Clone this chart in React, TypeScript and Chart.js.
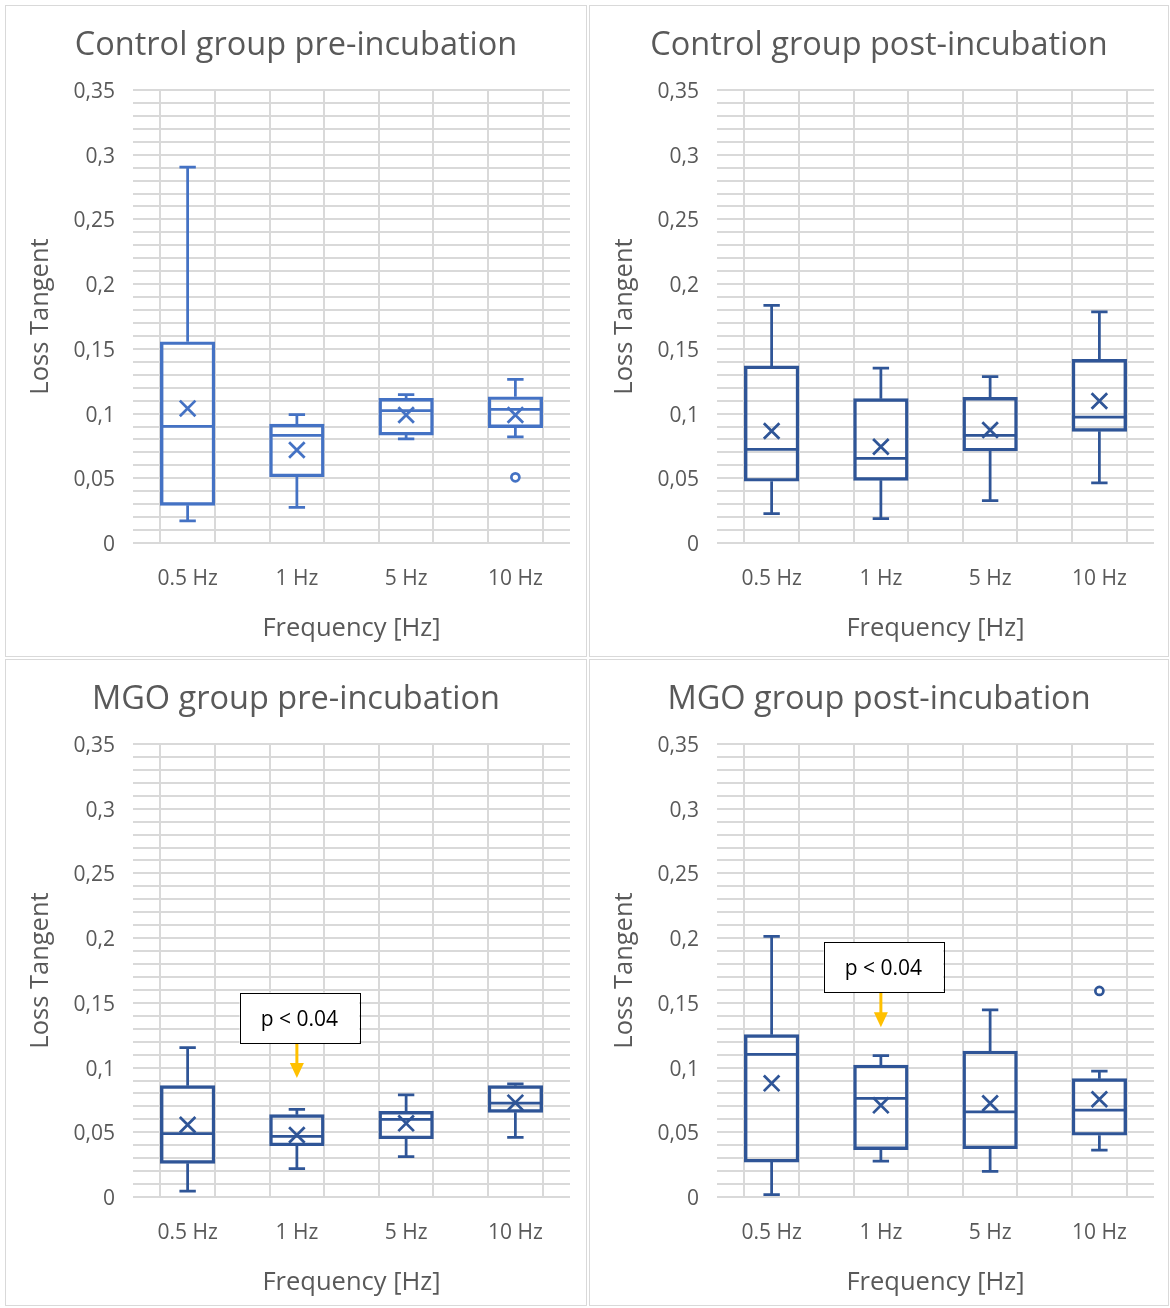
import React, { useEffect, useRef } from 'react';
import { Chart, registerables } from 'chart.js';

Chart.register(...registerables);

// ---------- data ----------
const categories = ['0.5 Hz', '1 Hz', '5 Hz', '10 Hz'];
const yAxisTitle = 'Loss Tangent';
const xAxisTitle = 'Frequency [Hz]';

// Control group pre-incubation
const ctrlPreMin = [0.017, 0.0276, 0.0804, 0.0819];
const ctrlPreQ1 = [0.0291, 0.0512, 0.0834, 0.0891];
const ctrlPreMedian = [0.0902, 0.0832, 0.1022, 0.1033];
const ctrlPreQ3 = [0.1555, 0.0919, 0.1118, 0.113];
const ctrlPreMax = [0.2905, 0.0991, 0.1146, 0.1265];
const ctrlPreMean = [0.104, 0.0719, 0.0989, 0.0989];
const ctrlPreOutliers: number[][] = [[], [], [], [0.0508]];

// Control group post-incubation
const ctrlPostMin = [0.0227, 0.0188, 0.0327, 0.0464];
const ctrlPostQ1 = [0.0477, 0.0484, 0.0711, 0.0863];
const ctrlPostMedian = [0.0724, 0.0654, 0.0832, 0.0973];
const ctrlPostQ3 = [0.1368, 0.1115, 0.1125, 0.1419];
const ctrlPostMax = [0.1836, 0.1352, 0.1285, 0.1785];
const ctrlPostMean = [0.0865, 0.0744, 0.0873, 0.1097];
const ctrlPostOutliers: number[][] = [[], [], [], []];

// MGO group pre-incubation
const mgoPreMin = [0.0046, 0.0219, 0.0311, 0.0461];
const mgoPreQ1 = [0.026, 0.0396, 0.045, 0.0654];
const mgoPreMedian = [0.0489, 0.0469, 0.06, 0.0726];
const mgoPreQ3 = [0.086, 0.0636, 0.0662, 0.086];
const mgoPreMax = [0.1154, 0.0677, 0.079, 0.0875];
const mgoPreMean = [0.0558, 0.0479, 0.0569, 0.0729];
const mgoPreOutliers: number[][] = [[], [], [], []];

// MGO group post-incubation
const mgoPostMin = [0.0018, 0.0278, 0.0198, 0.0363];
const mgoPostQ1 = [0.027, 0.0366, 0.0373, 0.0477];
const mgoPostMedian = [0.1102, 0.0762, 0.0657, 0.0672];
const mgoPostQ3 = [0.1254, 0.102, 0.1128, 0.0914];
const mgoPostMax = [0.2014, 0.1092, 0.1445, 0.0973];
const mgoPostMean = [0.0878, 0.0708, 0.0724, 0.0755];
const mgoPostOutliers: number[][] = [[], [], [], [0.1592]];

// significance annotations (category index, box top / bottom value, arrow tip value)
const sigText = 'p < 0.04';
const mgoPreSig = { cat: 1, top: 0.158, bottom: 0.119, tip: 0.092 };
const mgoPostSig = { cat: 1, top: 0.1968, bottom: 0.1584, tip: 0.1311 };

// ---------- panels ----------
type Sig = { cat: number; top: number; bottom: number; tip: number } | null;
interface PanelDef {
  title: string;
  min: number[]; q1: number[]; median: number[]; q3: number[]; max: number[];
  mean: number[]; outliers: number[][];
  color: string;
  sig: Sig;
  left: number; top: number; width: number; height: number;
}

const panels: PanelDef[] = [
  {
    title: 'Control group pre-incubation',
    min: ctrlPreMin, q1: ctrlPreQ1, median: ctrlPreMedian, q3: ctrlPreQ3, max: ctrlPreMax,
    mean: ctrlPreMean, outliers: ctrlPreOutliers, color: '#4472C4', sig: null,
    left: 5, top: 5, width: 582, height: 652,
  },
  {
    title: 'Control group post-incubation',
    min: ctrlPostMin, q1: ctrlPostQ1, median: ctrlPostMedian, q3: ctrlPostQ3, max: ctrlPostMax,
    mean: ctrlPostMean, outliers: ctrlPostOutliers, color: '#2F5597', sig: null,
    left: 589, top: 5, width: 580, height: 652,
  },
  {
    title: 'MGO group pre-incubation',
    min: mgoPreMin, q1: mgoPreQ1, median: mgoPreMedian, q3: mgoPreQ3, max: mgoPreMax,
    mean: mgoPreMean, outliers: mgoPreOutliers, color: '#2F5597', sig: mgoPreSig,
    left: 5, top: 659, width: 582, height: 647,
  },
  {
    title: 'MGO group post-incubation',
    min: mgoPostMin, q1: mgoPostQ1, median: mgoPostMedian, q3: mgoPostQ3, max: mgoPostMax,
    mean: mgoPostMean, outliers: mgoPostOutliers, color: '#2F5597', sig: mgoPostSig,
    left: 589, top: 659, width: 580, height: 647,
  },
];

const TEXT = '#595959';
const GRID = '#d9d9d9';
const FONT = "'Open Sans', sans-serif";
const LINE_W = 2.75;

const catX = (i: number) => 2 * i + 1;

function BoxPanel({ p }: { p: PanelDef }) {
  const ref = useRef<HTMLCanvasElement | null>(null);
  const cw = p.width - 2;
  const ch = p.height - 2;

  useEffect(() => {
    const canvas = ref.current;
    if (!canvas) return;
    const plotTop = 84;
    const plotBottom = 537;
    const plotLeft = 127;
    const plotRight = 564;

    const boxData = categories.map((_, i) => ({ x: catX(i), y: [p.q1[i], p.q3[i]] }));
    const meanData = categories.map((_, i) => ({ x: catX(i), y: p.mean[i] }));
    const outData: { x: number; y: number }[] = [];
    p.outliers.forEach((arr, i) => arr.forEach((v) => outData.push({ x: catX(i), y: v })));

    const whiskerPlugin = {
      id: 'whiskers',
      afterDatasetsDraw(chart: any) {
        const { ctx } = chart;
        const xs = chart.scales.x;
        const ys = chart.scales.y;
        const meta = chart.getDatasetMeta(0);
        ctx.save();
        ctx.strokeStyle = p.color;
        ctx.lineWidth = LINE_W;
        ctx.lineCap = 'butt';
        categories.forEach((_, i) => {
          const cx = xs.getPixelForValue(catX(i));
          const bar = meta.data[i];
          const half = bar ? bar.width / 2 : 27;
          const capHalf = xs.getPixelForValue(catX(i) + 0.15) - cx;
          const yMax = ys.getPixelForValue(p.max[i]);
          const yQ3 = ys.getPixelForValue(p.q3[i]);
          const yQ1 = ys.getPixelForValue(p.q1[i]);
          const yMin = ys.getPixelForValue(p.min[i]);
          const yMed = ys.getPixelForValue(p.median[i]);
          ctx.beginPath();
          ctx.moveTo(cx, yQ3); ctx.lineTo(cx, yMax);
          ctx.moveTo(cx - capHalf, yMax); ctx.lineTo(cx + capHalf, yMax);
          ctx.moveTo(cx, yQ1); ctx.lineTo(cx, yMin);
          ctx.moveTo(cx - capHalf, yMin); ctx.lineTo(cx + capHalf, yMin);
          ctx.moveTo(cx - half + 1, yMed); ctx.lineTo(cx + half - 1, yMed);
          ctx.stroke();
        });
        ctx.restore();
      },
      afterDraw(chart: any) {
        const s = p.sig;
        if (!s) return;
        const { ctx } = chart;
        const xs = chart.scales.x;
        const ys = chart.scales.y;
        const cx = xs.getPixelForValue(catX(s.cat));
        const x0 = xs.getPixelForValue(catX(s.cat) - 1.05);
        const x1 = xs.getPixelForValue(catX(s.cat) + 1.14);
        const yT = ys.getPixelForValue(s.top);
        const yB = ys.getPixelForValue(s.bottom);
        const yTip = ys.getPixelForValue(s.tip);
        ctx.save();
        ctx.strokeStyle = '#FFC000';
        ctx.fillStyle = '#FFC000';
        ctx.lineWidth = 3;
        ctx.beginPath();
        ctx.moveTo(cx, yB);
        ctx.lineTo(cx, yTip - 12);
        ctx.stroke();
        ctx.beginPath();
        ctx.moveTo(cx - 7, yTip - 15);
        ctx.lineTo(cx + 7, yTip - 15);
        ctx.lineTo(cx, yTip);
        ctx.closePath();
        ctx.fill();
        ctx.fillStyle = '#ffffff';
        ctx.fillRect(x0, yT, x1 - x0, yB - yT);
        ctx.strokeStyle = '#000000';
        ctx.lineWidth = 1;
        ctx.strokeRect(Math.round(x0) + 0.5, Math.round(yT) + 0.5, Math.round(x1 - x0), Math.round(yB - yT));
        ctx.fillStyle = '#000000';
        ctx.font = `21px ${FONT}`;
        ctx.textAlign = 'center';
        ctx.textBaseline = 'middle';
        ctx.fillText(sigText, (x0 + x1) / 2, (yT + yB) / 2 + 2);
        ctx.restore();
      },
    };

    const chart = new Chart(canvas, {
      type: 'bar',
      data: {
        datasets: [
          {
            type: 'bar',
            data: boxData as any,
            backgroundColor: 'rgba(0,0,0,0)',
            borderColor: p.color,
            borderWidth: LINE_W,
            borderSkipped: false,
            categoryPercentage: 1,
            barPercentage: 1,
          } as any,
          {
            type: 'scatter',
            data: meanData,
            pointStyle: 'crossRot',
            radius: 11,
            borderColor: p.color,
            borderWidth: LINE_W,
            backgroundColor: p.color,
          } as any,
          {
            type: 'scatter',
            data: outData,
            pointStyle: 'circle',
            radius: 4,
            borderColor: p.color,
            borderWidth: LINE_W,
            backgroundColor: '#ffffff',
          } as any,
        ],
      },
      options: {
        responsive: false,
        animation: false,
        events: [],
        layout: { padding: 0 },
        plugins: {
          legend: { display: false },
          tooltip: { enabled: false },
          title: {
            display: true,
            text: p.title,
            color: TEXT,
            font: { family: FONT, size: 32.5, weight: 'normal', lineHeight: 1.2 },
            padding: { top: 20, bottom: plotTop - 20 - 39 },
          },
        },
        scales: {
          x: {
            type: 'linear',
            min: 0,
            max: 8,
            offset: false,
            afterFit: (s: any) => { s.height = ch - plotBottom; },
            grid: {
              color: GRID,
              lineWidth: 2,
              drawTicks: true,
              tickLength: 23,
              tickColor: 'rgba(0,0,0,0)',
            },
            border: { display: false },
            ticks: {
              stepSize: 1,
              padding: 0,
              color: TEXT,
              font: { family: FONT, size: 21 },
              autoSkip: false,
              maxRotation: 0,
              callback: (v: any) => {
                const n = Number(v);
                if (n % 2 === 1) return categories[(n - 1) / 2];
                return '';
              },
            },
            title: {
              display: true,
              text: xAxisTitle,
              color: TEXT,
              font: { family: FONT, size: 25.5, lineHeight: 1.2 },
              padding: { top: 0, bottom: ch - 15.3 - 623 },
            },
          },
          y: {
            type: 'linear',
            min: 0,
            max: 0.35,
            afterFit: (s: any) => { s.width = plotLeft; },
            grid: { color: GRID, lineWidth: 2, drawTicks: false },
            border: { display: false },
            ticks: {
              stepSize: 0.01,
              maxTicksLimit: 100,
              autoSkip: false,
              padding: 18,
              labelOffset: 2,
              color: TEXT,
              font: { family: FONT, size: 21 },
              callback: (v: any) => {
                const n = Math.round(Number(v) * 100);
                if (n % 5 !== 0) return '';
                return String(n / 100).replace('.', ',');
              },
            },
            title: {
              display: true,
              text: yAxisTitle,
              color: TEXT,
              font: { family: FONT, size: 25.5, lineHeight: 1.2 },
              padding: { top: 19, bottom: 0 },
            },
          },
          yRight: {
            type: 'linear',
            position: 'right',
            display: true,
            afterFit: (s: any) => { s.width = cw - plotRight; },
            grid: { display: false, drawTicks: false },
            border: { display: false },
            ticks: { display: false, padding: 0 },
          },
        },
      } as any,
      plugins: [whiskerPlugin as any],
    });
    return () => chart.destroy();
  }, [p]);

  return (
    <div
      style={{
        position: 'absolute',
        left: p.left,
        top: p.top,
        width: p.width,
        height: p.height,
        border: '1px solid #d9d9d9',
        boxSizing: 'border-box',
        background: '#ffffff',
      }}
    >
      <canvas ref={ref} width={cw} height={ch} style={{ display: 'block', width: cw, height: ch }} />
    </div>
  );
}

export default function App() {
  useEffect(() => {
    document.body.style.margin = '0';
    document.body.style.background = '#ffffff';
  }, []);
  return (
    <div style={{ width: 1170, height: 1308, background: '#ffffff' }}>
      {panels.map((p) => (
        <BoxPanel key={p.title} p={p} />
      ))}
    </div>
  );
}
